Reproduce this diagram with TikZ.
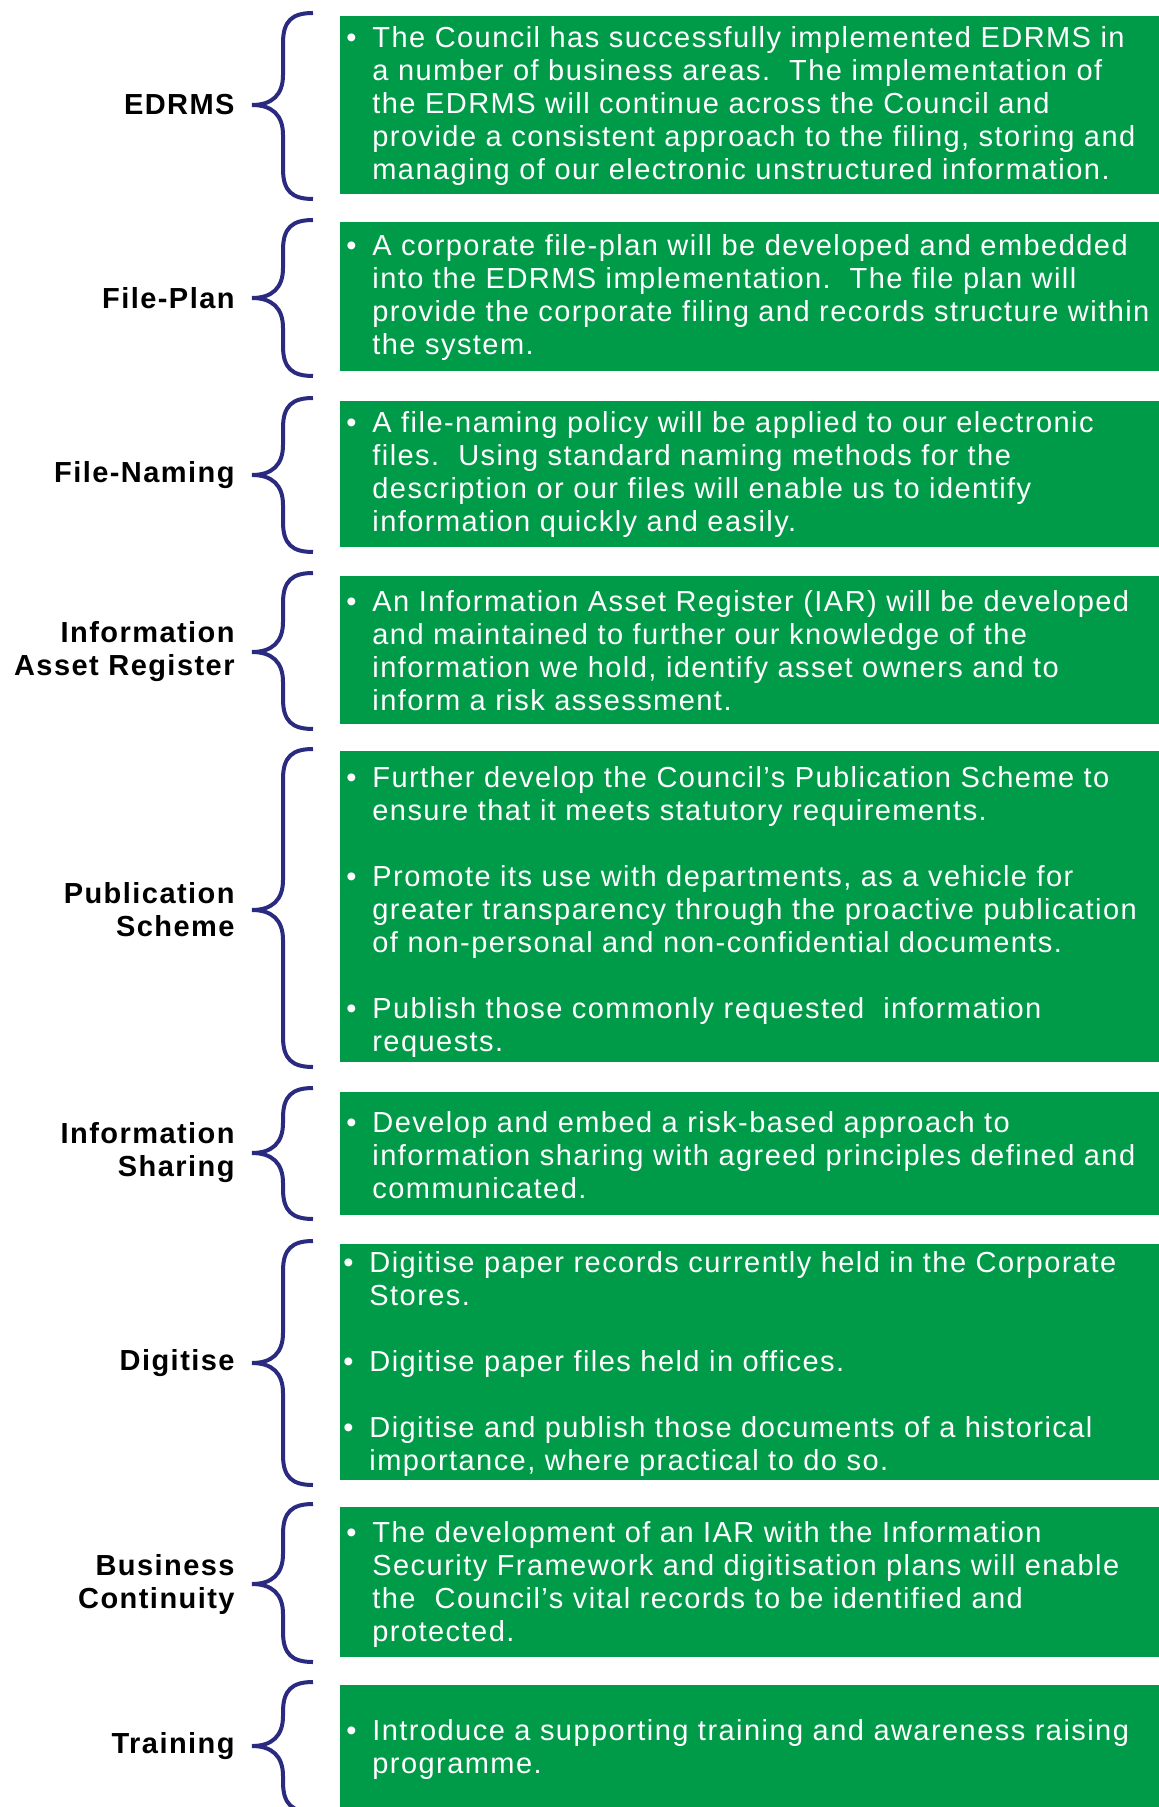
\documentclass[tikz,border=0pt]{standalone}
\usepackage{fontspec}
\setmainfont{Liberation Sans}
\newfontfamily\spacedfont[LetterSpace=5,Ligatures=TeX]{Liberation Sans}
\usetikzlibrary{positioning}

\definecolor{boxgreen}{RGB}{0,155,72}
\definecolor{bracenavy}{RGB}{42,42,128}

\newcommand{\bul}{\llap{\textbullet\hspace{8pt}}}
% curly brace: top, tip, bottom
\newcommand{\curly}[3]{%
  \draw[brc] (313,#1) .. controls (292,#1) and (283,#1+8) .. (283,#1+30)
    -- (283,#2-30) .. controls (283,#2-10) and (272,#2) .. (252,#2)
    .. controls (272,#2) and (283,#2+10) .. (283,#2+30)
    -- (283,#3-30) .. controls (283,#3-8) and (292,#3) .. (313,#3);}

\tikzset{
  lab/.style={anchor=east, align=right, inner sep=0pt,
    font=\spacedfont\fontsize{14.5}{16.5}\selectfont\bfseries},
  txt/.style={anchor=west, align=left, inner sep=0pt, text=white,
    font=\spacedfont\fontsize{14.5}{16.5}\selectfont},
  panel/.style={fill=boxgreen},
  brc/.style={draw=bracenavy, line width=2pt},
}

\begin{document}
\begin{tikzpicture}[x=0.5pt,y=-0.5pt]
\useasboundingbox (0,0) rectangle (1159,1807);

\fill[panel] (340,16) rectangle (1159,194);
\fill[panel] (340,222) rectangle (1159,371);
\fill[panel] (340,401) rectangle (1159,547);
\fill[panel] (340,576) rectangle (1159,724);
\fill[panel] (340,751) rectangle (1159,1062);
\fill[panel] (340,1092) rectangle (1159,1215);
\fill[panel] (340,1244) rectangle (1159,1480);
\fill[panel] (340,1507) rectangle (1159,1657);
\fill[panel] (340,1685) rectangle (1159,1807);

\curly{13}{105}{199}
\curly{220}{298}{376}
\curly{398}{475}{552}
\curly{573}{652}{729}
\curly{749}{910}{1067}
\curly{1088}{1153}{1219}
\curly{1241}{1363}{1485}
\curly{1504}{1584}{1662}
\curly{1682}{1746}{1812}

\node[lab] (edrms) at (235,105) {EDRMS};
\node[lab] (plan) at (235,298) {File-Plan};
\node[lab] (naming) at (235,475) {File-Naming};
\node[lab] (iar) at (235,652) {Information\\Asset Register};
\node[lab] (pubs) at (235,910) {Publication\\Scheme};
\node[lab] (share) at (235,1153) {Information\\Sharing};
\node[lab] (digi) at (235,1363) {Digitise};
\node[lab] (busc) at (235,1584) {Business\\Continuity};
\node[lab] (train) at (235,1746) {Training};

\node[txt] (edrmstxt) at (372,106) {\bul The Council has successfully implemented EDRMS in\\
a number of business areas.\ \ The implementation of\\
the EDRMS will continue across the Council and\\
provide a consistent approach to the filing, storing and\\
managing of our electronic unstructured information.};

\node[txt] (plantxt) at (372,298) {\bul A corporate file-plan will be developed and embedded\\
into the EDRMS implementation.\ \ The file plan will\\
provide the corporate filing and records structure within\\
the system.};

\node[txt] (namingtxt) at (372,475) {\bul A file-naming policy will be applied to our electronic\\
files.\ \ Using standard naming methods for the\\
description or our files will enable us to identify\\
information quickly and easily.};

\node[txt] (iartxt) at (372,651) {\bul An Information Asset Register (IAR) will be developed\\
and maintained to further our knowledge of the\\
information we hold, identify asset owners and to\\
inform a risk assessment.};

\node[txt] (pubstxt) at (372,912) {\bul Further develop the Council’s Publication Scheme to\\
ensure that it meets statutory requirements.\\[16.5pt]
\bul Promote its use with departments, as a vehicle for\\
greater transparency through the proactive publication\\
of non-personal and non-confidential documents.\\[16.5pt]
\bul Publish those commonly requested \ information\\
requests.};

\node[txt] (sharetxt) at (372,1155) {\bul Develop and embed a risk-based approach to\\
information sharing with agreed principles defined and\\
communicated.};

\node[txt] (digitxt) at (369,1364) {\bul Digitise paper records currently held in the Corporate\\
Stores.\\[16.5pt]
\bul Digitise paper files held in offices.\\[16.5pt]
\bul Digitise and publish those documents of a historical\\
importance, where practical to do so.};

\node[txt] (busctxt) at (372,1584) {\bul The development of an IAR with the Information\\
Security Framework and digitisation plans will enable\\
the \ Council’s vital records to be identified and\\
protected.};

\node[txt] (traintxt) at (372,1749) {\bul Introduce a supporting training and awareness raising\\
programme.};

\end{tikzpicture}
\end{document}
